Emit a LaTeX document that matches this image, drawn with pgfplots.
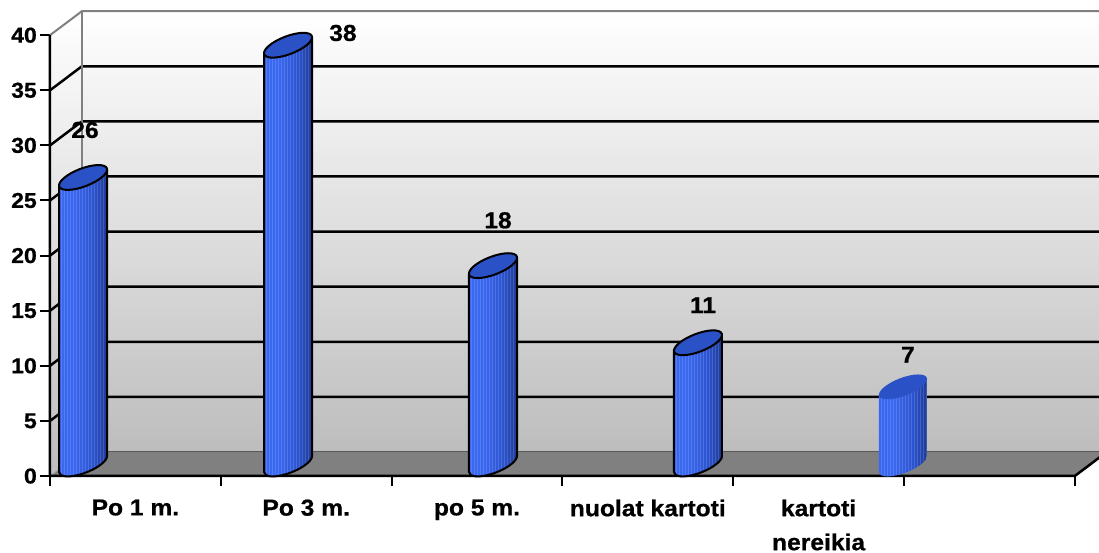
\documentclass[border=0pt]{standalone}
\usepackage{fontspec}
\setmainfont{Liberation Sans}[FakeStretch=1.07, BoldFeatures={FakeBold=0.8}]
\usepackage{pgfplots}
\pgfplotsset{compat=1.18}
\definecolor{barL}{HTML}{3A68F0}
\definecolor{barM}{HTML}{2C54D0}
\definecolor{barR}{HTML}{1E3A96}
\definecolor{barTop}{HTML}{2A52C6}
\definecolor{wallBot}{HTML}{BDBDBD}
\pgfdeclarehorizontalshading{cylshade}{100bp}{color(0bp)=(barL); color(25bp)=(barL); color(40bp)=(barL); color(60bp)=(barM); color(75bp)=(barR); color(100bp)=(barR)}
\pgfdeclareplotmark{nothing}{}
\newcommand\cylpath{%
  \pgfpathmoveto{\pgfqpoint{-8.02pt}{\yb pt}}%
  \pgfpatharcaxes{172.28}{352.28}{\pgfqpoint{23.81pt}{9.14pt}}{\pgfqpoint{-3.225pt}{8.40pt}}%
  \pgfpathlineto{\pgfqpoint{40.02pt}{19.93pt}}%
  \pgfpathlineto{\pgfqpoint{-8.02pt}{4.07pt}}%
  \pgfpathclose}
\newcommand\cylcode[1]{%
  \pgfmathsetmacro\hh{\ry*11.02}%
  \pgfmathsetmacro\yb{4.07-\hh}%
  \pgfmathsetmacro\ys{\yb-20}%
  \begin{pgfscope}%
    \cylpath\pgfshadepath{cylshade}{0}\pgfusepath{}%
    \begin{pgfscope}%
      \cylpath\pgfusepath{clip}%
      \pgfsetstrokecolor{white}\pgfsetstrokeopacity{0.14}\pgfsetlinewidth{0.6pt}%
      \foreach \xx in {-6,-3,...,39} {\pgfpathmoveto{\pgfqpoint{\xx pt}{30pt}}\pgfpathlineto{\pgfqpoint{\xx pt}{\ys pt}}\pgfusepath{stroke}}%
    \end{pgfscope}%
    \ifnum#1=1
      \pgfsetlinewidth{2pt}\pgfsetstrokecolor{black}%
      \pgfpathmoveto{\pgfqpoint{-8.02pt}{4.07pt}}%
      \pgfpathlineto{\pgfqpoint{-8.02pt}{\yb pt}}%
      \pgfpatharcaxes{172.28}{352.28}{\pgfqpoint{23.81pt}{9.14pt}}{\pgfqpoint{-3.225pt}{8.40pt}}%
      \pgfpathlineto{\pgfqpoint{40.02pt}{19.93pt}}%
      \pgfusepath{stroke}%
    \fi
    \pgfsetfillcolor{barTop}%
    \pgfpathellipse{\pgfqpoint{16pt}{12pt}}{\pgfqpoint{23.81pt}{9.14pt}}{\pgfqpoint{-3.225pt}{8.40pt}}%
    \ifnum#1=1 \pgfusepath{fill,stroke}\else\pgfusepath{fill}\fi
  \end{pgfscope}}
\begin{document}
\begin{tikzpicture}
\begin{axis}[
  at={(0pt,0pt)}, anchor=south west,
  x=170.8pt, y=11.02pt,
  xmin=0, xmax=6, ymin=0, ymax=40,
  clip=false,
  axis line style={draw=none},
  xtick={0,1,2,3,4,5,6}, x tick label as interval,
  xticklabels={Po 1 m.,Po 3 m.,po 5 m.,nuolat kartoti,{kartoti\\nereikia},{}},
  ytick={0,5,10,15,20,25,30,35,40},
  xtick pos=left, ytick pos=left,
  tick align=outside,
  major tick length=10pt,
  tick style={black, line width=2pt},
  /pgf/number format/assume math mode=true,
  x tick label style={font=\fontsize{23}{34}\selectfont\bfseries, align=center, anchor=north, yshift=-10pt},
  y tick label style={font=\fontsize{21.5}{25}\selectfont\bfseries, inner sep=2pt, xshift=-1pt},
]
% walls and floor
\fill[top color=white, bottom color=wallBot] (axis cs:0.187,2.18) rectangle (axis cs:6.25,42.18);
\fill[top color=white, bottom color=wallBot] (axis cs:0,0) -- (axis cs:0.187,2.18) -- (axis cs:0.187,42.18) -- (axis cs:0,40) -- cycle;
\fill[black!50] (axis cs:0,0) -- (axis cs:6,0) -- (axis cs:6.187,2.18) -- (axis cs:0.187,2.18) -- cycle;
\draw[black!65, line width=1pt] (axis cs:0.187,2.18) -- (axis cs:6.25,2.18);
\draw[black!35, line width=1pt] (axis cs:0,0) -- (axis cs:0.187,2.18);
% grid
\draw[black, line width=2.5pt] (axis cs:0,5) -- (axis cs:0.187,7.18) -- (axis cs:6.25,7.18);
\draw[black, line width=2.5pt] (axis cs:0,10) -- (axis cs:0.187,12.18) -- (axis cs:6.25,12.18);
\draw[black, line width=2.5pt] (axis cs:0,15) -- (axis cs:0.187,17.18) -- (axis cs:6.25,17.18);
\draw[black, line width=2.5pt] (axis cs:0,20) -- (axis cs:0.187,22.18) -- (axis cs:6.25,22.18);
\draw[black, line width=2.5pt] (axis cs:0,25) -- (axis cs:0.187,27.18) -- (axis cs:6.25,27.18);
\draw[black, line width=2.5pt] (axis cs:0,30) -- (axis cs:0.187,32.18) -- (axis cs:6.25,32.18);
\draw[black, line width=2.5pt] (axis cs:0,35) -- (axis cs:0.187,37.18) -- (axis cs:6.25,37.18);
\draw[black!50, line width=2pt] (axis cs:0,40) -- (axis cs:0.187,42.18) -- (axis cs:6.25,42.18);
\draw[black!50, line width=2pt] (axis cs:0.187,42.18) -- (axis cs:0.187,2.18);
% front axes
\draw[black, line width=2.5pt] (axis cs:0,40) -- (axis cs:0,0) -- (axis cs:6,0) -- (axis cs:6.187,2.18);
% cylinders
\addplot[scatter, only marks, mark=nothing,
  visualization depends on={rawy \as \ry},
  scatter/@pre marker code/.code={\cylcode{1}},
  scatter/@post marker code/.code={}]
  coordinates {(0.1,26) (1.3,38) (2.5,18) (3.7,11)};
\addplot[scatter, only marks, mark=nothing,
  visualization depends on={rawy \as \ry},
  scatter/@pre marker code/.code={\cylcode{0}},
  scatter/@post marker code/.code={}]
  coordinates {(4.9,7)};
% value labels
\addplot[only marks, mark=nothing, point meta=explicit,
  nodes near coords,
  nodes near coords style={anchor=center, font=\fontsize{23}{26}\selectfont\bfseries}]
  coordinates {(0.205,31.4) [26] (1.715,40.2) [38] (2.623,23.2) [18] (3.823,15.5) [11] (5.023,11.0) [7]};
\end{axis}
\pgfresetboundingbox
\useasboundingbox (-50pt,-77pt) rectangle (1049pt,476pt);
\end{tikzpicture}
\end{document}
